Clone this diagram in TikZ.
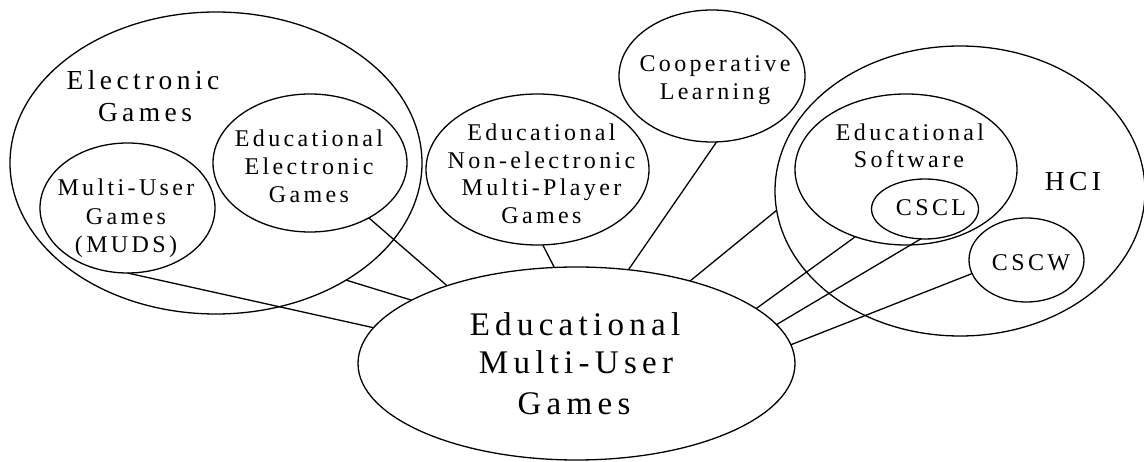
\documentclass[tikz,border=0pt]{standalone}
\usepackage{fontspec}
\setmainfont{Liberation Serif}
\newfontfamily\smallsp[LetterSpace=14]{Liberation Serif}
\newfontfamily\largesp[LetterSpace=16]{Liberation Serif}
\usetikzlibrary{shapes.geometric}
\begin{document}
\begin{tikzpicture}[x=1pt,y=-1pt,
 oval/.style={draw,ellipse,line width=1.3pt,inner sep=0pt,outer sep=0pt},
 link/.style={line width=1.3pt},
 sm/.style={anchor=base,inner sep=0pt,font=\smallsp\fontsize{24}{28}\selectfont},
 md/.style={anchor=base,inner sep=0pt,font=\largesp\fontsize{27.5}{32}\selectfont},
 lg/.style={anchor=base,inner sep=0pt,font=\largesp\fontsize{33}{39}\selectfont}]
\useasboundingbox (0,0) rectangle (1144,462);

% ellipses
\node[oval,minimum width=412pt,minimum height=302pt] (eg) at (216,163) {};
\node[oval,minimum width=194pt,minimum height=138pt] (eeg) at (310,163) {};
\node[oval,minimum width=175pt,minimum height=130pt] (muds) at (127.5,208) {};
\node[oval,minimum width=223pt,minimum height=151pt] (ne) at (537.5,169.5) {};
\node[oval,minimum width=186pt,minimum height=132pt] (coop) at (712,76) {};
\node[oval,minimum width=370pt,minimum height=290pt] (hci) at (960,191) {};
\node[oval,minimum width=222pt,minimum height=151pt] (es) at (906,169.5) {};
\node[oval,minimum width=107pt,minimum height=60pt] (cscl) at (925,209) {};
\node[oval,minimum width=115pt,minimum height=84pt] (cscw) at (1026.5,260) {};
\node[oval,minimum width=437pt,minimum height=193pt] (main) at (576.5,363.5) {};

% connectors
\draw[link] (muds.270) -- (main.170.8);
\draw[link] (eg.318.4) -- (main.159.8);
\draw[link] (eeg.317.5) -- (main.149.8);
\draw[link] (ne.274.1) -- (main.103.7);
\draw[link] (coop.274.3) -- (main.61);
\draw[link] (hci.186.5) -- (main.36.6);
\draw[link] (es.233.2) -- (main.17.2);
\draw[link] (cscl.262.4) -- (main.11.8);
\draw[link] (cscw.194.9) -- (main.5.4);

% labels
\node[md] (egA) at (143,90) {Electronic};
\node[md] (egB) at (145,122) {Games};
\node[md] (hciT) at (1073,191) {HCI};

\node[sm] (eegA) at (309,146.9) {Educational};
\node[sm] (eegB) at (309,174.9) {Electronic};
\node[sm] (eegC) at (309,202.9) {Games};

\node[sm] (mudA) at (126,195.9) {Multi-User};
\node[sm] (mudB) at (126,224.9) {Games};
\node[sm] (mudC) at (126,252.9) {(MUDS)};

\node[sm] (neA) at (541.5,140.9) {Educational};
\node[sm] (neB) at (541.5,168.9) {Non-electronic};
\node[sm] (neC) at (541.5,195.9) {Multi-Player};
\node[sm] (neD) at (541.5,223.9) {Games};

\node[sm] (coA) at (715,71.9) {Cooperative};
\node[sm] (coB) at (715,99.9) {Learning};

\node[sm] (esA) at (910,140.9) {Educational};
\node[sm] (esB) at (909,167.9) {Software};
\node[sm] (csclT) at (931,215.9) {CSCL};
\node[sm] (cscwT) at (1031,270.9) {CSCW};

\node[lg] (mA) at (575,336) {Educational};
\node[lg] (mB) at (576,374) {Multi-User};
\node[lg] (mC) at (574,414) {Games};
\end{tikzpicture}
\end{document}
